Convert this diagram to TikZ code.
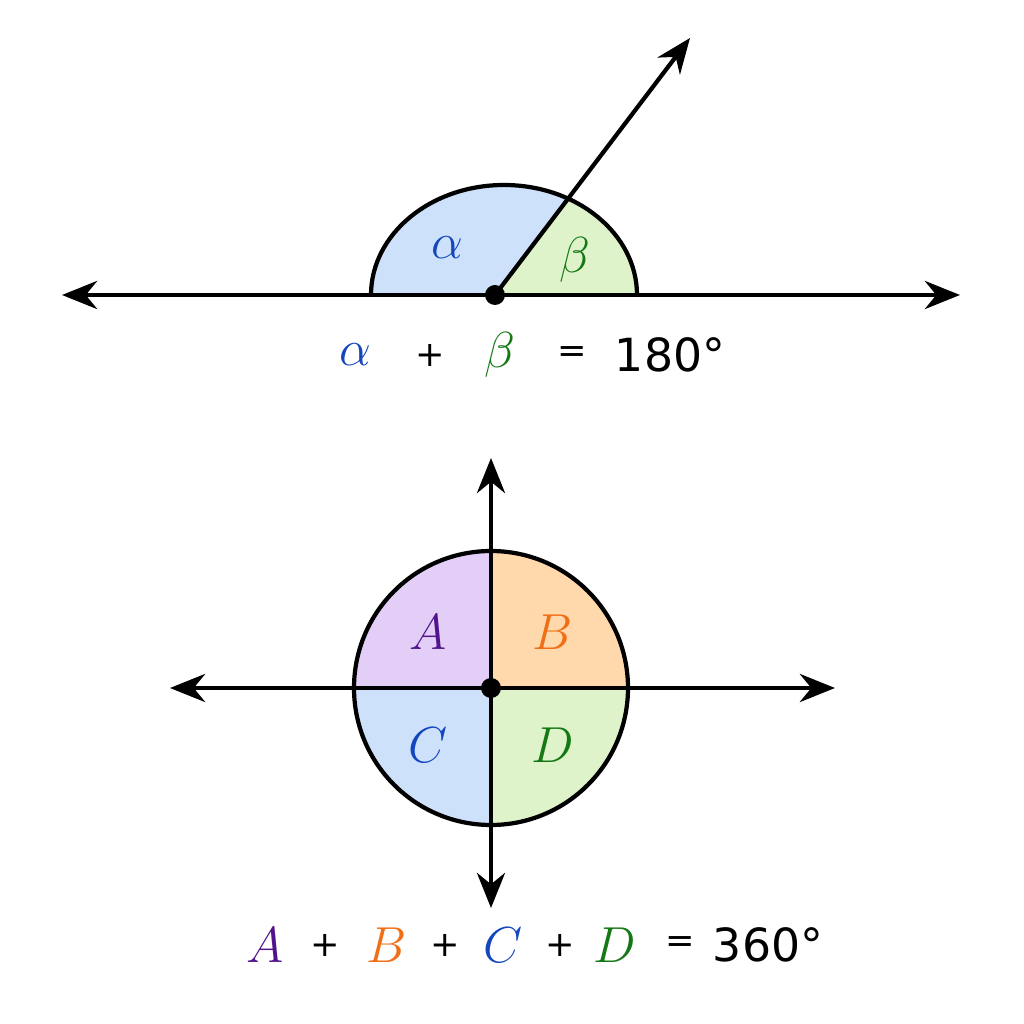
\documentclass[tikz,border=0pt]{standalone}
\usepackage{fontspec}
\setmainfont{DejaVu Sans}
\usetikzlibrary{arrows.meta}
\definecolor{fillblue}{RGB}{205,225,250}
\definecolor{fillgreen}{RGB}{222,243,202}
\definecolor{fillpurple}{RGB}{226,206,246}
\definecolor{fillorange}{RGB}{255,216,172}
\definecolor{txtblue}{RGB}{20,70,190}
\definecolor{txtgreen}{RGB}{20,120,20}
\definecolor{txtpurple}{RGB}{80,20,140}
\definecolor{txtorange}{RGB}{240,110,20}
\tikzset{
  axis/.style={line width=1.2pt, {Stealth[length=10pt,width=8pt]}-{Stealth[length=10pt,width=8pt]}},
  ray/.style={line width=1.2pt, -{Stealth[length=10pt,width=8pt]}},
  rim/.style={line width=1.2pt},
  lbl/.style={font=\fontsize{15}{15}\selectfont},
  num/.style={font=\fontsize{13}{13}\selectfont},
  sym/.style={font=\fontsize{10}{10}\selectfont}
}
\begin{document}
\begin{tikzpicture}
\useasboundingbox (0,0) rectangle (10.24,10.24);
% Straight angle
\coordinate (O) at (4.95,7.29);
\fill[fillblue] (O) -- (6.37,7.29) arc[start angle=0, end angle=180, x radius=1.33, y radius=1.1] -- cycle;
\fill[fillgreen] (O) -- (6.37,7.29) arc[start angle=0, end angle=61.2, x radius=1.33, y radius=1.1] -- cycle;
\draw[rim] (6.37,7.29) arc[start angle=0, end angle=180, x radius=1.33, y radius=1.1];
\draw[axis] (0.62,7.29) -- (9.6,7.29);
\coordinate (tip) at (6.9,9.86);
\draw[ray] (O) -- (tip);
\fill (O) circle (0.1);
\node[lbl, text=txtblue] (alpha) at (4.47,7.76) {$\alpha$};
\node[lbl, text=txtgreen] (beta) at (5.75,7.64) {$\beta$};
% Equation 1
\node[lbl, text=txtblue] (ea) at (3.55,6.69) {$\alpha$};
\node[sym] (p1) at (4.3,6.69) {+};
\node[lbl, text=txtgreen] (eb) at (5.0,6.69) {$\beta$};
\node[sym] (q1) at (5.72,6.69) {=};
\node[num] (v1) at (6.7,6.69) {180°};
% Full angle
\coordinate (C) at (4.91,3.36);
\fill[fillpurple] (C) -- (4.91,4.73) arc (90:180:1.37) -- cycle;
\fill[fillorange] (C) -- (6.28,3.36) arc (0:90:1.37) -- cycle;
\fill[fillblue] (C) -- (3.54,3.36) arc (180:270:1.37) -- cycle;
\fill[fillgreen] (C) -- (4.91,1.99) arc (270:360:1.37) -- cycle;
\draw[rim] (C) circle (1.37);
\draw[axis] (1.7,3.36) -- (8.35,3.36);
\draw[axis] (4.91,1.16) -- (4.91,5.66);
\fill (C) circle (0.1);
\node[lbl, text=txtpurple] (A) at (4.28,3.92) {$A$};
\node[lbl, text=txtorange] (B) at (5.53,3.92) {$B$};
\node[lbl, text=txtblue] (Cq) at (4.28,2.79) {$C$};
\node[lbl, text=txtgreen] (D) at (5.53,2.79) {$D$};
% Equation 2
\node[lbl, text=txtpurple] (eA) at (2.65,0.79) {$A$};
\node[sym] (p2) at (3.25,0.79) {+};
\node[lbl, text=txtorange] (eB) at (3.87,0.79) {$B$};
\node[sym] (p3) at (4.45,0.79) {+};
\node[lbl, text=txtblue] (eC) at (5.03,0.79) {$C$};
\node[sym] (p4) at (5.6,0.79) {+};
\node[lbl, text=txtgreen] (eD) at (6.15,0.79) {$D$};
\node[sym] (q2) at (6.8,0.79) {=};
\node[num] (v2) at (7.68,0.79) {360°};
\end{tikzpicture}
\end{document}
